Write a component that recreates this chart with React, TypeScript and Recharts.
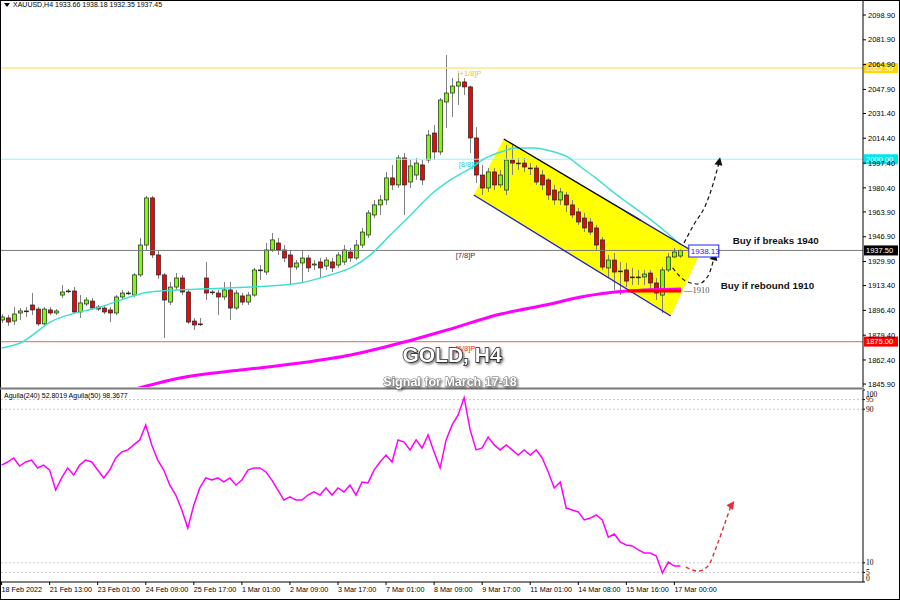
import React from 'react';
import { ComposedChart, Bar, Line, Area, XAxis, YAxis, ReferenceLine, ReferenceDot } from 'recharts';

const FONT = '"Liberation Sans", Arial, sans-serif';

// ---------- data ----------
const candleOpen = [
  1889.8, 1891.2, 1889.1, 1894.6, 1896.0, 1900.1, 1897.3, 1887.1, 1896.7, 1894.6,
  1906.9, 1909.7, 1909.7, 1895.3, 1900.8, 1902.8, 1898.7, 1898.0, 1896.7, 1894.6,
  1905.6, 1908.3, 1906.9, 1920.7, 1941.2, 1973.5, 1934.4, 1920.7, 1902.1, 1912.4,
  1918.6, 1909.0, 1889.1, 1887.1, 1918.6, 1909.0, 1908.3, 1905.6, 1910.4, 1898.0,
  1906.3, 1902.1, 1906.9, 1924.1, 1922.7, 1937.8, 1942.6, 1937.8, 1934.4, 1926.1,
  1928.9, 1932.3, 1927.5, 1929.6, 1926.8, 1929.6, 1927.5, 1929.6, 1936.4, 1932.3,
  1941.2, 1948.1, 1961.8, 1968.7, 1972.1, 1987.2, 1982.4, 2000.9, 1984.4, 1989.2,
  1996.1, 1999.5, 2018.0, 2005.0, 2039.3, 2045.4, 2050.2, 2053.0, 2049.6, 2014.6,
  1989.2, 1980.3, 1991.3, 1982.4, 1978.9, 1999.5, 1997.4, 1997.4, 1994.0, 1994.0,
  1989.2, 1985.8, 1978.9, 1972.1, 1975.5, 1968.7, 1963.9, 1959.7, 1957.0, 1952.9,
  1944.7, 1925.5, 1930.9, 1923.4, 1924.1, 1919.3, 1919.3, 1919.3, 1922.0, 1915.2,
  1906.9, 1924.1, 1933.0, 1933.66,
];
const candleHigh = [
  1893.9, 1893.2, 1898.7, 1898.0, 1898.7, 1908.3, 1898.7, 1898.7, 1898.7, 1897.3,
  1913.8, 1911.1, 1912.4, 1906.9, 1905.6, 1904.9, 1900.1, 1900.1, 1898.7, 1906.9,
  1910.4, 1909.7, 1922.0, 1946.0, 1974.8, 1974.8, 1937.8, 1922.0, 1915.9, 1922.0,
  1920.7, 1910.4, 1891.2, 1891.2, 1929.6, 1910.4, 1910.4, 1915.9, 1915.9, 1910.4,
  1908.3, 1909.0, 1925.5, 1927.5, 1942.6, 1949.5, 1946.0, 1941.2, 1937.8, 1930.9,
  1937.8, 1934.4, 1930.9, 1932.3, 1933.0, 1932.3, 1936.4, 1941.2, 1939.2, 1944.7,
  1952.9, 1965.2, 1972.1, 1975.5, 1991.3, 1996.1, 2002.9, 2004.3, 1999.5, 2000.9,
  1999.5, 2020.1, 2023.5, 2042.0, 2071.5, 2055.7, 2059.2, 2055.7, 2050.5, 2022.1,
  1996.1, 1994.0, 1994.0, 1992.6, 2009.8, 2009.8, 2000.9, 2000.9, 1997.4, 1996.1,
  1992.6, 1987.2, 1982.4, 1980.3, 1977.6, 1972.1, 1966.6, 1963.2, 1959.7, 1954.9,
  1946.7, 1934.4, 1935.7, 1929.6, 1928.9, 1925.5, 1924.1, 1924.1, 1924.1, 1918.6,
  1926.1, 1935.7, 1939.2, 1938.18,
];
const candleLow = [
  1887.8, 1885.7, 1886.4, 1889.8, 1891.9, 1893.2, 1885.7, 1885.7, 1893.2, 1893.2,
  1904.9, 1908.3, 1893.9, 1891.2, 1899.4, 1896.7, 1896.0, 1893.9, 1888.4, 1893.2,
  1903.5, 1906.9, 1905.6, 1919.3, 1937.8, 1932.3, 1918.0, 1877.5, 1900.1, 1910.4,
  1906.9, 1887.1, 1883.0, 1885.7, 1903.5, 1906.9, 1893.2, 1903.5, 1889.8, 1896.7,
  1900.1, 1900.1, 1905.6, 1917.2, 1920.7, 1936.4, 1934.4, 1929.6, 1913.8, 1924.1,
  1915.9, 1922.7, 1924.1, 1918.6, 1924.1, 1922.7, 1925.5, 1927.5, 1929.6, 1930.9,
  1939.2, 1946.0, 1959.7, 1961.8, 1968.7, 1978.9, 1980.3, 1961.8, 1980.3, 1985.8,
  1982.4, 1997.4, 1999.5, 2002.9, 2021.4, 2029.0, 2037.2, 2044.1, 2004.3, 1983.7,
  1975.5, 1977.6, 1978.9, 1980.3, 1975.5, 1989.2, 1992.6, 1991.3, 1989.2, 1982.4,
  1978.9, 1972.1, 1968.7, 1968.7, 1963.9, 1959.7, 1954.9, 1950.1, 1948.1, 1937.8,
  1924.1, 1918.6, 1910.4, 1906.9, 1912.4, 1913.8, 1913.8, 1913.8, 1910.4, 1903.5,
  1894.6, 1922.7, 1932.3, 1932.35,
];
const candleClose = [
  1891.9, 1888.4, 1893.9, 1896.0, 1895.7, 1896.7, 1887.1, 1897.3, 1894.6, 1896.0,
  1909.0, 1909.4, 1895.3, 1901.5, 1903.5, 1898.0, 1897.3, 1895.3, 1894.6, 1905.6,
  1908.3, 1908.0, 1920.7, 1941.2, 1973.5, 1934.4, 1920.7, 1903.5, 1912.4, 1918.6,
  1909.0, 1888.4, 1886.4, 1886.8, 1908.3, 1908.7, 1905.6, 1910.4, 1898.0, 1908.3,
  1902.1, 1906.9, 1924.1, 1923.8, 1937.8, 1944.7, 1937.8, 1932.3, 1926.1, 1928.9,
  1932.3, 1925.5, 1928.2, 1925.5, 1930.9, 1925.5, 1934.4, 1937.8, 1932.3, 1941.2,
  1950.1, 1963.2, 1968.7, 1972.1, 1987.2, 1982.4, 2000.9, 1982.4, 1995.4, 1997.4,
  1985.8, 2016.6, 2005.0, 2040.6, 2045.4, 2050.2, 2053.0, 2049.6, 2014.6, 1989.2,
  1980.3, 1991.3, 1982.4, 1989.2, 1999.5, 1997.4, 1997.1, 1994.7, 1993.7, 1984.4,
  1982.4, 1975.5, 1972.1, 1977.6, 1968.7, 1961.8, 1957.0, 1952.9, 1950.1, 1941.2,
  1926.1, 1930.9, 1922.7, 1923.1, 1916.5, 1919.0, 1919.0, 1921.3, 1915.2, 1908.3,
  1924.1, 1933.0, 1936.4, 1937.45,
];
const aguilaValues = [
  60.9, 62.5, 64.6, 60.4, 62.5, 63.5, 59.4, 60.9, 58.3, 47.9,
  54.2, 59.4, 55.7, 60.9, 63.5, 62.5, 58.3, 54.2, 58.3, 64.6,
  67.7, 68.8, 71.4, 74.0, 81.8, 71.4, 63.5, 58.3, 50.5, 45.3,
  37.5, 28.1, 40.1, 49.0, 54.2, 53.1, 54.2, 52.1, 54.2, 50.5,
  53.1, 58.3, 59.4, 59.4, 57.3, 53.1, 47.9, 42.7, 44.3, 42.7,
  42.7, 45.3, 46.9, 45.3, 49.0, 45.3, 49.0, 46.9, 50.5, 45.3,
  52.1, 51.6, 58.3, 62.5, 66.1, 62.5, 74.0, 72.9, 68.8, 74.0,
  69.8, 76.6, 67.7, 59.4, 74.0, 81.8, 87.0, 96.0, 79.2, 68.8,
  69.8, 75.5, 71.4, 68.8, 71.4, 68.8, 66.1, 68.8, 66.1, 68.8,
  64.6, 57.3, 49.0, 52.1, 38.5, 37.5, 36.5, 32.3, 33.3, 34.9,
  32.3, 23.4, 25.0, 20.8, 19.3, 18.8, 16.7, 15.1, 15.1, 13.5,
  4.7, 10.4, 8.3, 8.3,
];
// sampled moving averages: [bar index, price]
const smaFast = [
  [0, 1870.6], [3.1, 1874.0], [8.1, 1888.4], [16.4, 1898.7], [24.7, 1909.0], [33.1, 1911.1],
  [41.4, 1912.4], [49.7, 1915.2], [54.7, 1920.7], [58.1, 1925.5], [61.4, 1934.4], [64.7, 1948.1],
  [68.1, 1961.8], [71.4, 1975.5], [74.7, 1985.8], [78.1, 1994.0], [80.6, 2000.9], [83.1, 2005.0],
  [85.6, 2007.7], [88.6, 2007.7], [91.4, 2005.7], [94.2, 2001.6], [96.4, 1994.7], [98.9, 1987.2],
  [101.4, 1978.9], [104.7, 1968.7], [108.1, 1958.4], [110.6, 1950.1], [113.1, 1941.2],
];
const smaSlow = [
  [22.3, 1842.5], [29.7, 1850.0], [39.7, 1855.5], [49.7, 1860.3], [58.1, 1865.8], [66.4, 1874.0],
  [74.2, 1883.0], [83.1, 1893.9], [91.4, 1900.8], [96.4, 1905.6], [104.2, 1909.7], [113.1, 1911.1],
];
// channel polygon as [index, lower, upper]
const channelBand = [
  [78.6, 1975.5, 1975.5], [83.6, 1962.9, 2013.9], [111.4, 1892.5, 1945.9], [116.1, 1934.4, 1934.4],
];
const arrowBreak = [[113.6, 1942.6], [115.2, 1954.9], [117.2, 1968.7], [118.4, 1982.4], [119.4, 1997.4]];
const arrowRebound = [[111.7, 1925.5], [113.9, 1916.5], [115.9, 1914.5], [117.6, 1920.0], [118.6, 1932.3]];
const arrowAguila = [[113.9, 7.8], [115.9, 5.7], [117.6, 8.3], [119.1, 19.3], [121.4, 39.6]];

const priceTicks = [2098.9, 2081.9, 2064.9, 2047.9, 2031.4, 2014.4, 1997.4, 1980.4, 1963.9, 1946.9, 1929.9, 1913.4, 1896.4, 1879.4, 1862.4, 1845.9];
const aguilaTicks = [0, 5, 10, 90, 95, 100];
const timeTicks = [0, 8, 16, 24, 32, 40, 48, 56, 64, 72, 80, 88, 96, 104, 112];
const timeLabels = ['18 Feb 2022', '21 Feb 13:00', '23 Feb 01:00', '24 Feb 09:00', '25 Feb 17:00', '1 Mar 01:00', '2 Mar 09:00', '3 Mar 17:00', '7 Mar 01:00', '8 Mar 09:00', '9 Mar 17:00', '11 Mar 01:00', '14 Mar 08:00', '15 Mar 16:00', '17 Mar 00:00'];

const candles = candleOpen.map((o, i) => ({
  i, o, h: candleHigh[i], l: candleLow[i], c: candleClose[i], range: [candleLow[i], candleHigh[i]],
}));
const aguila = aguilaValues.map((v, i) => ({ i, v }));
const toPts = (arr: number[][]) => arr.map(([i, v]) => ({ i, v }));
const band = channelBand.map(([i, lo, hi]) => ({ i, r: [lo, hi] }));

const X_DOMAIN: [number, number] = [-0.1, 143.4];
const BODY_W = 4;

// ---------- renderers ----------
const Candle = (props: any) => {
  const { x, y, width, height, payload } = props;
  if (payload == null || x == null || y == null) return <g />;
  const top0 = Math.min(y, y + height);
  const hh = Math.abs(height);
  const { o, h, l, c } = payload;
  const span = h - l || 1;
  const py = (p: number) => top0 + ((h - p) / span) * hh;
  const cx = Math.round(x + (width || 0) / 2) + 0.5;
  const up = c >= o;
  const bt = py(Math.max(o, c));
  const bb = py(Math.min(o, c));
  return (
    <g>
      <line x1={cx} x2={cx} y1={top0} y2={top0 + hh} stroke="#808080" strokeWidth={1} />
      <rect x={cx - BODY_W / 2} y={bt} width={BODY_W} height={Math.max(bb - bt, 0.8)}
        fill={up ? '#7CFC00' : '#FF0000'} stroke="#202020" strokeWidth={0.7} />
    </g>
  );
};

const arrowDot = (n: number, color: string, angle: number) => (props: any) => {
  const { cx, cy, index } = props;
  if (index !== n - 1) return <g key={`d${index}`} />;
  return (
    <polygon key={`d${index}`} points="0,-6 4,2 -4,2" fill={color}
      transform={`translate(${cx},${cy}) rotate(${angle})`} />
  );
};

const PriceTag = (bg: string, fg: string, text: string) => (props: any) => {
  const vb = props.viewBox || {};
  const x = vb.x + vb.width + 1;
  const y = vb.y;
  return (
    <g>
      <rect x={x} y={y - 5} width={34} height={10} fill={bg} />
      <text x={x + 2} y={y} dy="0.35em" fontSize={7.5} fill={fg} fontFamily={FONT}>{text}</text>
    </g>
  );
};

const TextAt = (text: string, opts: any) => (props: any) => {
  const vb = props.viewBox || {};
  return (
    <text x={vb.x} y={vb.y} dy="0.35em" fontFamily={opts.family || FONT} fontSize={opts.size}
      fontWeight={opts.weight || 'normal'} fill={opts.color} textAnchor="start">{text}</text>
  );
};

const BoxAt = (text: string) => (props: any) => {
  const vb = props.viewBox || {};
  return (
    <g>
      <rect x={vb.x} y={vb.y - 6} width={30} height={12} fill="#fff" stroke="#2020ff" strokeWidth={1} />
      <text x={vb.x + 2} y={vb.y} dy="0.35em" fontFamily={FONT} fontSize={8} fill="#2020ff">{text}</text>
    </g>
  );
};

const TimeTick = (props: any) => {
  const { x, y, payload } = props;
  const idx = timeTicks.indexOf(payload.value);
  return (
    <text x={x} y={y} dy="0.71em" fontSize={7.2} fontFamily={FONT} fill="#000" textAnchor="start">
      {timeLabels[idx]}
    </text>
  );
};

const AguilaTick = (props: any) => {
  const { x, y, payload } = props;
  const v = payload.value;
  const dy = v === 100 ? 4 : v === 0 ? -4 : 0;
  return (
    <text x={x} y={y + dy} dy="0.35em" fontSize={7.5} fontFamily='"Liberation Serif", serif' fill="#000" textAnchor="start">{v}</text>
  );
};

export default function App() {
  return (
    <div style={{ position: 'absolute', left: 0, top: 0, width: 900, height: 600, background: '#fff', overflow: 'hidden' }}>
      {/* price panel */}
      <div style={{ position: 'absolute', left: 0, top: 0 }}>
        <ComposedChart width={900} height={388} data={candles} margin={{ top: 1, right: 0, bottom: 1, left: 1 }}>
          <XAxis dataKey="i" type="number" domain={X_DOMAIN} hide allowDataOverflow />
          <YAxis orientation="right" width={37} domain={[1843.87, 2108.5]} ticks={priceTicks} allowDataOverflow interval={0}
            tickFormatter={(v: number) => v.toFixed(2)} tickSize={3} tickMargin={2}
            tick={{ fontSize: 7.5, fill: '#000', fontFamily: FONT }} axisLine={{ stroke: '#000' }} tickLine={{ stroke: '#000' }} />
          <Area data={band} dataKey="r" type="linear" fill="#FFFF00" fillOpacity={1} stroke="none" isAnimationActive={false} />
          <ReferenceLine y={2062.5} stroke="#FFE680" strokeWidth={1.5} label={PriceTag('#FFD700', '#fff', '2062.50')} />
          <ReferenceLine y={2000} stroke="#7FFFFF" strokeWidth={1.2} label={PriceTag('#00E5EE', '#fff', '2000.00')} />
          <ReferenceLine y={1937.5} stroke="#7a7a7a" strokeWidth={1} label={PriceTag('#000', '#fff', '1937.50')} />
          <ReferenceLine y={1875} stroke="#F08080" strokeWidth={1.2} label={PriceTag('#FF0000', '#fff', '1875.00')} />
          <Line data={toPts(smaFast)} dataKey="v" type="monotone" stroke="#40E0D0" strokeWidth={1.5} dot={false} isAnimationActive={false} />
          <Line data={toPts(smaSlow)} dataKey="v" type="monotone" stroke="#FF00FF" strokeWidth={3} dot={false} isAnimationActive={false} />
          <Bar dataKey="range" barSize={4} shape={Candle} isAnimationActive={false} />
          <ReferenceLine segment={[{ x: 83.6, y: 2013.9 }, { x: 106.4, y: 1958.1 }]} stroke="#000" strokeWidth={1.3} />
          <ReferenceLine segment={[{ x: 104.0, y: 1963.9 }, { x: 116.1, y: 1934.4 }]} stroke="#1a1aa0" strokeWidth={1.3} />
          <ReferenceLine segment={[{ x: 78.6, y: 1975.5 }, { x: 111.4, y: 1892.5 }]} stroke="#1a1acd" strokeWidth={1.3} />
          <ReferenceLine segment={[{ x: 104.2, y: 1909.7 }, { x: 113.1, y: 1909.7 }]} stroke="#FF0000" strokeWidth={3} />
          <Line data={toPts(arrowBreak)} dataKey="v" type="monotone" stroke="#111" strokeWidth={1.2} strokeDasharray="4 3"
            dot={arrowDot(arrowBreak.length, '#111', 12)} isAnimationActive={false} />
          <Line data={toPts(arrowRebound)} dataKey="v" type="monotone" stroke="#111" strokeWidth={1.2} strokeDasharray="4 3"
            dot={arrowDot(arrowRebound.length, '#111', 15)} isAnimationActive={false} />
          <ReferenceDot x={75.9} y={2059.2} r={0} fill="none" stroke="none" label={TextAt('[+1/8]P', { size: 7.5, color: '#F5C400' })} />
          <ReferenceDot x={76.1} y={1996.8} r={0} fill="none" stroke="none" label={TextAt('[8/8]P', { size: 7.5, color: '#20C8D8' })} />
          <ReferenceDot x={75.6} y={1934.4} r={0} fill="none" stroke="none" label={TextAt('[7/8]P', { size: 7.5, color: '#333' })} />
          <ReferenceDot x={75.6} y={1870.6} r={0} fill="none" stroke="none" label={TextAt('[6/8]P', { size: 7.5, color: '#FF2020' })} />
          <ReferenceDot x={114.4} y={1937.1} r={0} fill="none" stroke="none" label={BoxAt('1938.13')} />
          <ReferenceDot x={113.6} y={1910.4} r={0} fill="none" stroke="none" label={TextAt('—1910', { size: 8.5, color: '#555', family: '"Liberation Serif", serif' })} />
          <ReferenceDot x={121.7} y={1944.0} r={0} fill="none" stroke="none" label={TextAt('Buy if breaks 1940', { size: 9.8, color: '#111', weight: 'bold' })} />
          <ReferenceDot x={119.7} y={1913.1} r={0} fill="none" stroke="none" label={TextAt('Buy if rebound 1910', { size: 9.8, color: '#111', weight: 'bold' })} />
        </ComposedChart>
      </div>

      {/* indicator panel */}
      <div style={{ position: 'absolute', left: 0, top: 388 }}>
        <ComposedChart width={900} height={212} data={aguila} margin={{ top: 2, right: 0, bottom: 0, left: 1 }}>
          <XAxis dataKey="i" type="number" domain={X_DOMAIN} ticks={timeTicks} interval={0} allowDataOverflow
            tick={TimeTick} tickSize={3} tickMargin={2} height={18} axisLine={{ stroke: '#000' }} tickLine={{ stroke: '#000' }} />
          <YAxis orientation="right" width={37} domain={[0, 100]} ticks={aguilaTicks} allowDataOverflow interval={0}
            tick={AguilaTick} tickSize={2} tickMargin={1} axisLine={{ stroke: '#000' }} tickLine={{ stroke: '#000' }} />
          <ReferenceLine y={95} stroke="#c8c8c8" strokeDasharray="2 2" />
          <ReferenceLine y={90} stroke="#c8c8c8" strokeDasharray="2 2" />
          <ReferenceLine y={10} stroke="#c8c8c8" strokeDasharray="2 2" />
          <ReferenceLine y={5} stroke="#c8c8c8" strokeDasharray="2 2" />
          <Line dataKey="v" type="linear" stroke="#FF00FF" strokeWidth={1.5} dot={false} isAnimationActive={false} />
          <Line data={toPts(arrowAguila)} dataKey="v" type="monotone" stroke="#E0303A" strokeWidth={1.4} strokeDasharray="4 3"
            dot={arrowDot(arrowAguila.length, '#E0303A', 35)} isAnimationActive={false} />
        </ComposedChart>
      </div>

      {/* frame and overlay texts */}
      <svg width={900} height={600} style={{ position: 'absolute', left: 0, top: 0, pointerEvents: 'none' }}>
        <defs>
          <filter id="sh" x="-10%" y="-30%" width="130%" height="160%">
            <feDropShadow dx="1.5" dy="1.5" stdDeviation="1" floodColor="#000" floodOpacity="0.55" />
          </filter>
        </defs>
        <rect x={0.5} y={0.5} width={899} height={599} fill="none" stroke="#000" strokeWidth={1} />
        <line x1={0} x2={864} y1={388.5} y2={388.5} stroke="#7a7a7a" strokeWidth={2} />
        <polygon points="4,3 10,3 7,7" fill="#000" />
        <text x={13} y={5} dy="0.35em" fontSize={7} fontFamily={FONT} fill="#000">XAUUSD,H4  1933.66 1938.18 1932.35 1937.45</text>
        <text x={4} y={396} dy="0.35em" fontSize={7} fontFamily={FONT} fill="#000">Aguila(240) 52.8019  Aguila(50) 98.3677</text>
        <text x={452} y={362} textAnchor="middle" fontSize={21} fontWeight="bold" fontFamily={FONT}
          fill="#fff" stroke="#111" strokeWidth={1.3} paintOrder="stroke" filter="url(#sh)">GOLD, H4</text>
        <text x={450} y={385.5} textAnchor="middle" fontSize={12.5} fontWeight="bold" fontFamily={FONT}
          fill="#fff" stroke="#666" strokeWidth={0.9} paintOrder="stroke" filter="url(#sh)">Signal for March 17-18</text>
      </svg>
    </div>
  );
}
